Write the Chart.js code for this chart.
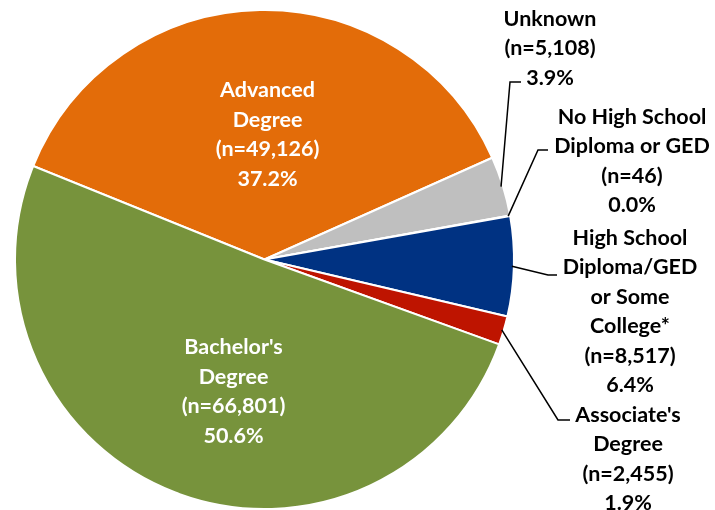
<!DOCTYPE html>
<html>
<head>
<meta charset="utf-8">
<script src="https://cdn.jsdelivr.net/npm/chart.js@4.4.1/dist/chart.umd.min.js"></script>
<style>
  html, body { margin: 0; padding: 0; background: #ffffff; }
  #wrap { width: 715px; height: 510px; }
</style>
</head>
<body>
<div id="wrap"><canvas id="pie" width="715" height="510"></canvas></div>
<script>
// Education level of respondents
const categories = [
  "Advanced Degree",
  "Unknown",
  "No High School Diploma or GED",
  "High School Diploma/GED or Some College*",
  "Associate's Degree",
  "Bachelor's Degree"
];
const counts = [49126, 5108, 46, 8517, 2455, 66801];
const labelLines = [
  ["Advanced", "Degree"],
  ["Unknown"],
  ["No High School", "Diploma or GED"],
  ["High School", "Diploma/GED", "or Some", "College*"],
  ["Associate's", "Degree"],
  ["Bachelor's", "Degree"]
];
const sliceColors = ["#E36C09", "#BFBFBF", "#C0504D", "#003282", "#BE1400", "#77933C"];

const total = counts.reduce((a, b) => a + b, 0);
const pctText = counts.map(v => (v / total * 100).toFixed(1) + "%");
const nText = counts.map(v => "(n=" + v.toLocaleString("en-US") + ")");

const FONT = "bold 21.5px Lato, 'Open Sans', sans-serif";
const LINE_H = 29.5;

// Label placement: inside labels are offset from the pie centre,
// outside labels get a leader line with an elbow before the text block.
const placement = [
  { inside: true, dx: 3, dy: -169 },
  { inside: false, tx: 550, ty: 19, elbow: [510, 82], end: [521, 82] },
  { inside: false, tx: 632, ty: 117, elbow: [538, 150], end: [548, 150] },
  { inside: false, tx: 630, ty: 238, elbow: [548, 275], end: [557, 275] },
  { inside: false, tx: 628, ty: 415, elbow: [558, 420], end: [570, 420] },
  { inside: true, dx: -31, dy: 88 }
];

const labelPlugin = {
  id: "sliceLabels",
  afterDatasetsDraw(chart) {
    const ctx = chart.ctx;
    const arcs = chart.getDatasetMeta(0).data;
    ctx.save();
    ctx.font = FONT;
    ctx.textAlign = "center";
    ctx.textBaseline = "middle";
    arcs.forEach((arc, i) => {
      const p = placement[i];
      const lines = labelLines[i].concat([nText[i], pctText[i]]);
      if (p.inside) {
        ctx.fillStyle = "#ffffff";
        lines.forEach((t, k) => ctx.fillText(t, arc.x + p.dx, arc.y + p.dy + k * LINE_H));
      } else {
        const mid = (arc.startAngle + arc.endAngle) / 2;
        const r = arc.outerRadius - 2;
        const sx = arc.x + Math.cos(mid) * r;
        const sy = arc.y + Math.sin(mid) * r;
        ctx.strokeStyle = "#000000";
        ctx.lineWidth = 1.5;
        ctx.beginPath();
        ctx.moveTo(sx, sy);
        ctx.lineTo(p.elbow[0], p.elbow[1]);
        ctx.lineTo(p.end[0], p.end[1]);
        ctx.stroke();
        ctx.fillStyle = "#000000";
        lines.forEach((t, k) => ctx.fillText(t, p.tx, p.ty + k * LINE_H));
      }
    });
    ctx.restore();
  }
};

new Chart(document.getElementById("pie"), {
  type: "pie",
  data: {
    labels: categories,
    datasets: [{
      data: counts,
      backgroundColor: sliceColors,
      borderColor: "#ffffff",
      borderWidth: 2
    }]
  },
  options: {
    responsive: false,
    animation: false,
    rotation: -68,
    layout: { padding: { left: 14, right: 200, top: 9, bottom: 0 } },
    plugins: {
      legend: { display: false },
      tooltip: { enabled: false }
    }
  },
  plugins: [labelPlugin]
});
</script>
</body>
</html>
